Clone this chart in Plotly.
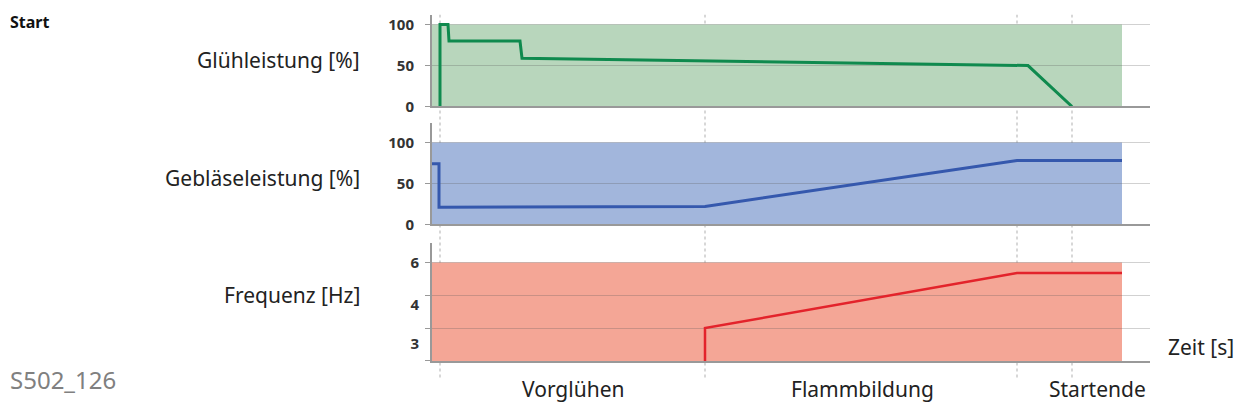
import plotly.graph_objects as go

# time axis in arbitrary units (0 = y axis, 718 = end of grid lines)
t_glow = [8, 8, 16, 17, 88, 90, 596, 640]
glow = [0, 100, 100, 80, 80, 59, 50, 0]

t_fan = [0, 7, 7, 273, 585, 690]
fan = [74, 74, 21, 22, 78, 78]

# frequency panel drawn on grid steps (0 = bottom, 3 = "6 Hz")
t_freq = [273, 273, 585, 690]
freq = [0, 1, 2.68, 2.68]
freq_tickvals = [3, 1.72, 0.53]
freq_ticktext = ["6", "4", "3"]

phase_lines = [8, 273, 585, 640]
phase_pos = [141, 430, 665]
phase_names = ["Vorglühen", "Flammbildung", "Startende"]
fill_end = 690

# the page body has an 8px margin on every side, so the figure is made
# 16px smaller and positions below are given in window pixels
OFF = 8
W, H = 1242 - 2 * OFF, 414 - 2 * OFF
FONT = "Noto Sans"


def px(x):
    return (x - OFF) / W


def py(y):
    return 1 - (y - OFF) / H


fig = go.Figure()
fig.add_trace(go.Scatter(x=t_glow, y=glow, mode="lines", line=dict(color="#0f8a4e", width=3),
                         xaxis="x", yaxis="y"))
fig.add_trace(go.Scatter(x=t_fan, y=fan, mode="lines", line=dict(color="#3558ad", width=3),
                         xaxis="x2", yaxis="y2"))
fig.add_trace(go.Scatter(x=t_freq, y=freq, mode="lines", line=dict(color="#e3232b", width=2.5),
                         xaxis="x3", yaxis="y3"))

xdom = [px(432), px(1150)]
xcommon = dict(range=[0, 718], domain=xdom, showgrid=False, zeroline=False, showline=True,
               linecolor="#999999", linewidth=2, ticks="", showticklabels=False, fixedrange=True)
ycommon = dict(showline=True, linecolor="#999999", linewidth=2, zeroline=False, ticks="outside",
               ticklen=5, tickcolor="#999999", gridcolor="rgba(90,90,90,0.28)", gridwidth=1,
               tickfont=dict(family=FONT, size=15, color="#333333", weight="bold"),
               ticklabelstandoff=8, fixedrange=True)

fig.update_layout(
    width=W, height=H, margin=dict(l=0, r=0, t=0, b=0),
    paper_bgcolor="white", plot_bgcolor="white", showlegend=False,
    xaxis=dict(**xcommon, anchor="y"),
    xaxis2=dict(**xcommon, anchor="y2", matches="x"),
    xaxis3=dict(**xcommon, anchor="y3", matches="x"),
    yaxis=dict(**ycommon, domain=[py(108), py(14)], range=[0, 111.9], tickvals=[0, 50, 100], anchor="x"),
    yaxis2=dict(**ycommon, domain=[py(229), py(125)], range=[0, 123.8], tickvals=[0, 50, 100], anchor="x2"),
    yaxis3=dict(ycommon, domain=[py(369), py(248)], range=[0, 3.594], anchor="x3",
                tickvals=freq_tickvals, ticktext=freq_ticktext, ticks="", showgrid=False,
                minor=dict(tick0=0, dtick=1, showgrid=True, ticks="outside", ticklen=5,
                           tickcolor="#999999", gridcolor="rgba(90,90,90,0.28)")),
)

# panel background fills
fills = [("x", "y", 100, "#b8d6bc"), ("x2", "y2", 100, "#a2b6dc"), ("x3", "y3", 3, "#f4a696")]
for xr, yr, top, col in fills:
    fig.add_shape(type="rect", xref=xr, yref=yr, x0=0, x1=fill_end, y0=0, y1=top,
                  fillcolor=col, line=dict(width=0), layer="below")

# dotted phase separators
for t in phase_lines:
    fig.add_shape(type="line", xref="x", yref="paper", x0=t, x1=t, y0=py(386), y1=py(14),
                  line=dict(color="#bdbdbd", width=1.2, dash="dot"), layer="below")

# phase names under the time axis
for t, name in zip(phase_pos, phase_names):
    fig.add_annotation(text=name, xref="x3", yref="paper", x=t, y=py(398),
                       xanchor="center", yanchor="middle", showarrow=False,
                       font=dict(family=FONT, size=21, color="#222222"))

labels = [("Glühleistung [%]", 60), ("Gebläseleistung [%]", 181), ("Frequenz [Hz]", 301)]
for txt, y in labels:
    fig.add_annotation(text=txt, xref="paper", yref="paper", x=px(362), y=py(y),
                       xanchor="right", yanchor="middle", showarrow=False,
                       font=dict(family=FONT, size=21, color="#222222"))

fig.add_annotation(text="Zeit [s]", xref="paper", yref="paper", x=px(1166), y=py(355),
                   xanchor="left", yanchor="middle", showarrow=False,
                   font=dict(family=FONT, size=21, color="#222222"))
fig.add_annotation(text="<b>Start</b>", xref="paper", yref="paper", x=px(8), y=1,
                   xanchor="left", yanchor="top", showarrow=False,
                   font=dict(family=FONT, size=16, color="#111111"))
fig.add_annotation(text="S502_126", xref="paper", yref="paper", x=px(8), y=py(388),
                   xanchor="left", yanchor="middle", showarrow=False,
                   font=dict(family=FONT, size=24, color="#808080"))

fig.write_html("out.html")
